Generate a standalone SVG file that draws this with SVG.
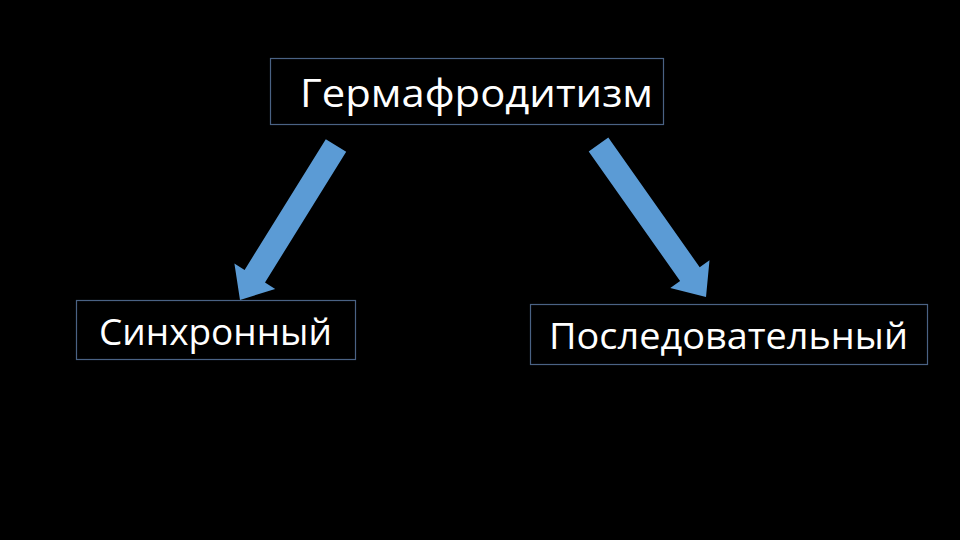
<svg xmlns="http://www.w3.org/2000/svg" width="960" height="540" viewBox="0 0 960 540">
<style>
.box{fill:#000;stroke:#4a6284;stroke-width:1.2}
.lbl{fill:#fff;font-family:"Open Sans","DejaVu Sans",sans-serif;}
.arrow{fill:#5b9bd5}
</style>
<rect width="960" height="540" fill="#000"/>
<g id="connectors">
<polygon class="arrow" points="325.8,139.2 346.2,151.8 265,282.5 275.2,288.9 240,300 234.4,263.5 244.6,269.9"/>
<polygon class="arrow" points="608.3,137.6 588.7,151.4 680.1,281 670.3,287.9 706,297 709.5,260.3 699.7,267.2"/>
</g>
<g id="node-top">
<rect class="box" x="270.5" y="58.5" width="393" height="66"/>
<text class="lbl" x="300" y="107" font-size="38" textLength="353" lengthAdjust="spacingAndGlyphs">Гермафродитизм</text>
</g>
<g id="node-left">
<rect class="box" x="76.5" y="300.5" width="279" height="59"/>
<text class="lbl" x="99" y="345" font-size="37" textLength="233" lengthAdjust="spacingAndGlyphs">Синхронный</text>
</g>
<g id="node-right">
<rect class="box" x="530.5" y="304.5" width="397" height="60"/>
<text class="lbl" x="549" y="349" font-size="37" textLength="359" lengthAdjust="spacingAndGlyphs">Последовательный</text>
</g>
</svg>
